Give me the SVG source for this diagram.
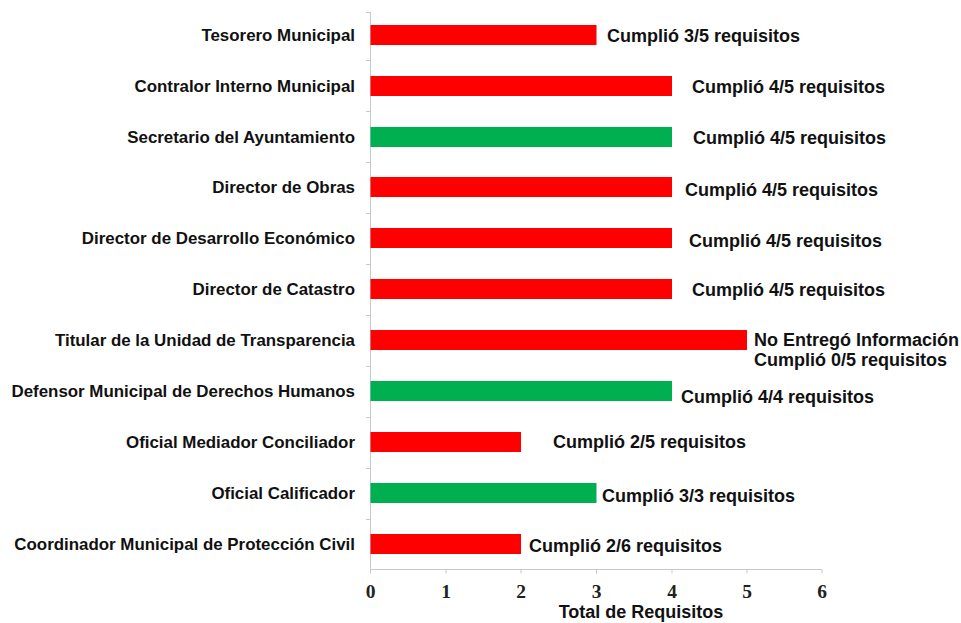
<svg xmlns="http://www.w3.org/2000/svg" width="961" height="623" viewBox="0 0 961 623">
<style>
.cat{font-family:"Liberation Sans",Arial,sans-serif;font-weight:bold;font-size:16.9px;fill:#111;text-anchor:end}
.val{font-family:"Liberation Sans",Arial,sans-serif;font-weight:bold;font-size:18px;fill:#111}
.tick{font-family:"Liberation Serif","Times New Roman",serif;font-weight:bold;font-size:19.5px;fill:#222;text-anchor:middle}
.title{font-family:"Liberation Sans",Arial,sans-serif;font-weight:bold;font-size:18px;fill:#111;text-anchor:middle}
.red{fill:#ff0000}
.green{fill:#00b050}
.ax{stroke:#c8c8c8;stroke-width:1;fill:none}
</style>
<rect width="961" height="623" fill="#ffffff"/>
<g id="axes">
<line class="ax" x1="370.5" y1="12" x2="370.5" y2="569.5"/>
<line class="ax" x1="370.5" y1="569.5" x2="822" y2="569.5"/>
<path class="ax" d="M446 569.5v4M521 569.5v4M596.5 569.5v4M672 569.5v4M747 569.5v4M822 569.5v4M370.5 569.5v4"/>
<path class="ax" d="M366 60.5h4.5M366 111.5h4.5M366 162.5h4.5M366 213.5h4.5M366 264.5h4.5M366 315.5h4.5M366 366.5h4.5M366 417.5h4.5M366 468.5h4.5M366 519.5h4.5M366 12.5h4.5"/>
<text class="tick" x="370.5" y="598">0</text>
<text class="tick" x="446" y="598">1</text>
<text class="tick" x="521" y="598">2</text>
<text class="tick" x="596.5" y="598">3</text>
<text class="tick" x="672" y="598">4</text>
<text class="tick" x="747" y="598">5</text>
<text class="tick" x="822" y="598">6</text>
<text class="title" x="641" y="618">Total de Requisitos</text>
</g>
<g id="row1"><text class="cat" x="355" y="41">Tesorero Municipal</text><rect class="red" x="370.5" y="25" width="226" height="20"/><text class="val" x="607" y="42">Cumplió 3/5 requisitos</text></g>
<g id="row2"><text class="cat" x="355" y="92">Contralor Interno Municipal</text><rect class="red" x="370.5" y="76" width="301.5" height="20"/><text class="val" x="692" y="93">Cumplió 4/5 requisitos</text></g>
<g id="row3"><text class="cat" x="355" y="143">Secretario del Ayuntamiento</text><rect class="green" x="370.5" y="127" width="301.5" height="20"/><text class="val" x="693" y="144">Cumplió 4/5 requisitos</text></g>
<g id="row4"><text class="cat" x="355" y="193">Director de Obras</text><rect class="red" x="370.5" y="177" width="301.5" height="20"/><text class="val" x="685" y="196">Cumplió 4/5 requisitos</text></g>
<g id="row5"><text class="cat" x="355" y="244">Director de Desarrollo Económico</text><rect class="red" x="370.5" y="228" width="301.5" height="20"/><text class="val" x="689" y="247">Cumplió 4/5 requisitos</text></g>
<g id="row6"><text class="cat" x="355" y="295">Director de Catastro</text><rect class="red" x="370.5" y="279" width="301.5" height="20"/><text class="val" x="692" y="296">Cumplió 4/5 requisitos</text></g>
<g id="row7"><text class="cat" x="355" y="346">Titular de la Unidad de Transparencia</text><rect class="red" x="370.5" y="330" width="376.5" height="20"/><text class="val" x="754" y="346">No Entregó Información</text><text class="val" x="754" y="366">Cumplió 0/5 requisitos</text></g>
<g id="row8"><text class="cat" x="355" y="397">Defensor Municipal de Derechos Humanos</text><rect class="green" x="370.5" y="381" width="301.5" height="20"/><text class="val" x="681" y="403">Cumplió 4/4 requisitos</text></g>
<g id="row9"><text class="cat" x="355" y="448">Oficial Mediador Conciliador</text><rect class="red" x="370.5" y="432" width="150.5" height="20"/><text class="val" x="553" y="448">Cumplió 2/5 requisitos</text></g>
<g id="row10"><text class="cat" x="355" y="499">Oficial Calificador</text><rect class="green" x="370.5" y="483" width="226" height="20"/><text class="val" x="602" y="502">Cumplió 3/3 requisitos</text></g>
<g id="row11"><text class="cat" x="355" y="550">Coordinador Municipal de Protección Civil</text><rect class="red" x="370.5" y="534" width="150.5" height="20"/><text class="val" x="529" y="552">Cumplió 2/6 requisitos</text></g>
</svg>
